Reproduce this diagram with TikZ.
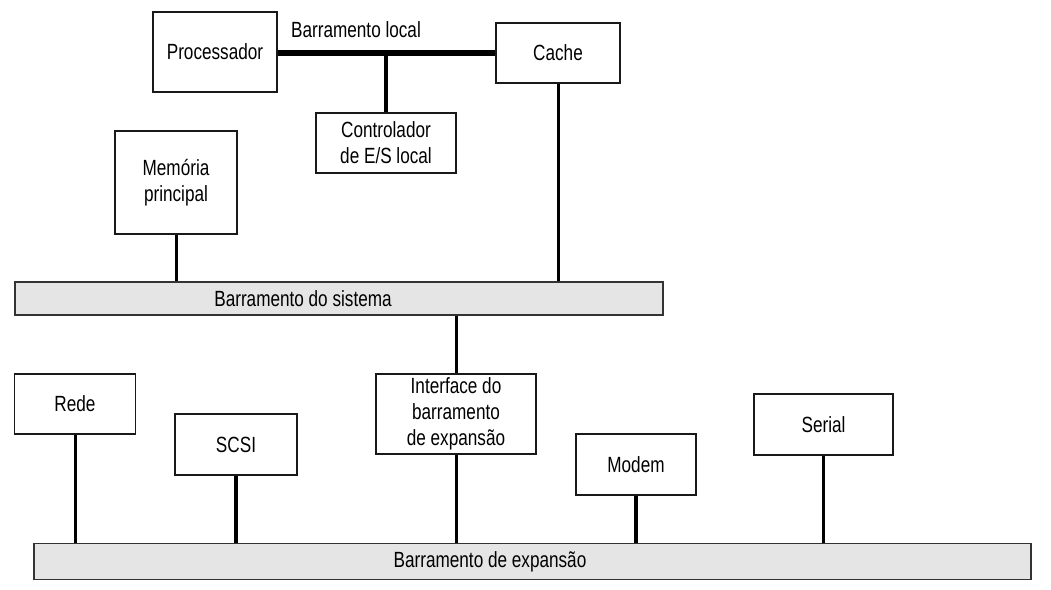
\documentclass[tikz,border=0pt]{standalone}
\usepackage{fontspec}
\setmainfont{Liberation Sans}[FakeStretch=0.78]
\begin{document}
\begin{tikzpicture}[x=1pt,y=-1pt,
  font=\fontsize{22}{26}\selectfont,
  unit/.style={draw=black!90,line width=1.6pt,fill=white,rectangle,inner sep=0pt,align=center},
  bus/.style={draw=black!80,line width=1.6pt,fill=black!10,rectangle,inner sep=0pt},
  txt/.style={inner sep=0pt,align=center},
  link/.style={line width=3pt,black},
  linkb/.style={line width=4pt,black},
  localbus/.style={line width=6pt,black}]
\useasboundingbox (0,0) rectangle (1051,589);
% top
\node[unit,minimum width=124pt,minimum height=80pt] (proc) at (215,52) {Processador};
\node[unit,minimum width=124pt,minimum height=60pt] (cache) at (558,53) {Cache};
\node[unit,minimum width=140pt,minimum height=60pt] (ctrl) at (386,143) {Controlador\\de E/S local};
\node[txt] (lbl) at (356,30) {Barramento local};
\node[unit,minimum width=122pt,minimum height=103pt] (mem) at (176,182.5) {Memória\\principal};
% system bus
\node[bus,minimum width=648pt,minimum height=33pt] (sys) at (339,298.5) {};
\node[txt] (syslbl) at (303,299) {Barramento do sistema};
% expansion units
\node[unit,minimum width=160pt,minimum height=80pt] (iface) at (456,414) {Interface do\\barramento\\de expansão};
\node[unit,minimum width=121pt,minimum height=60pt] (rede) at (75,404) {Rede};
\node[unit,minimum width=122pt,minimum height=61pt] (scsi) at (236,444.5) {SCSI};
\node[unit,minimum width=120pt,minimum height=61pt] (modem) at (636,464.5) {Modem};
\node[unit,minimum width=139pt,minimum height=61pt] (serial) at (823.5,424.5) {Serial};
% expansion bus
\node[bus,minimum width=997pt,minimum height=36pt] (exp) at (532.5,561.5) {};
\node[txt] (explbl) at (490,562) {Barramento de expansão};
% connectors
\draw[localbus] (proc.east |- 0,53) -- (cache.west);
\draw[linkb] (ctrl.north) -- (ctrl.north |- cache.west);
\draw[link] (cache.south) -- (cache.south |- sys.north);
\draw[link] (mem.south) -- (mem.south |- sys.north);
\draw[link] (iface.north) -- (iface.north |- sys.south);
\draw[link] (rede.south) -- (rede.south |- exp.north);
\draw[linkb] (scsi.south) -- (scsi.south |- exp.north);
\draw[link] (iface.south) -- (iface.south |- exp.north);
\draw[linkb] (modem.south) -- (modem.south |- exp.north);
\draw[link] (serial.south) -- (serial.south |- exp.north);
\end{tikzpicture}
\end{document}
